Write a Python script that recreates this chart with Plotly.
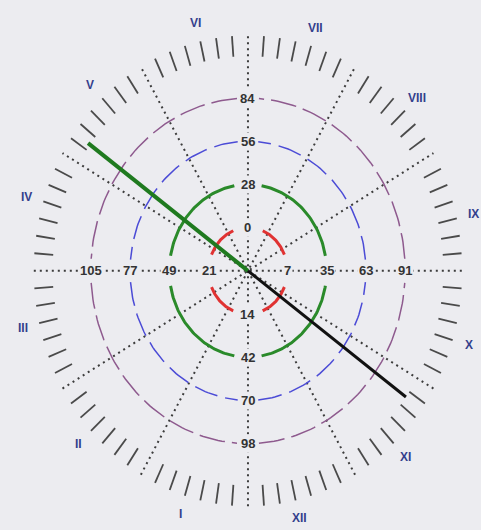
import numpy as np
import plotly.graph_objects as go

# ring labels (value sits on ring value//28 + 1, top/right/bottom/left by (value % 28) // 7)
ring_values = [0, 7, 14, 21, 28, 35, 42, 49, 56, 63, 70, 77, 84, 91, 98, 105]
# roman numerals round the dial, I..XII going clockwise from the bottom
numerals = ['I', 'II', 'III', 'IV', 'V', 'VI', 'VII', 'VIII', 'IX', 'X', 'XI', 'XII']
# the two hands (degrees counter-clockwise from east, length in ring units)
hand_angles = [144, -36]
hand_lengths = [5.03, 4.97]

BG = '#ececf0'


def pt(r, deg):
    a = np.radians(deg)
    return r * np.cos(a), r * np.sin(a)


fig = go.Figure()

# dotted radial lines every 30 degrees
for deg in range(0, 180, 30):
    x0, y0 = pt(5.45, deg)
    fig.add_trace(go.Scatter(x=[-x0, x0], y=[-y0, y0], mode='lines',
                             line=dict(color='#3c3c3c', width=2, dash='2px,4px'),
                             hoverinfo='skip'))

# minute ticks, 7 per 30 degrees, the ones on the dotted lines left out
tx, ty = [], []
for i in range(84):
    if i % 7 == 0:
        continue
    deg = i * 30 / 7
    x0, y0 = pt(4.97, deg)
    x1, y1 = pt(5.45, deg)
    tx += [x0, x1, None]
    ty += [y0, y1, None]
fig.add_trace(go.Scatter(x=tx, y=ty, mode='lines', line=dict(color='#4a4a4a', width=1.8),
                         hoverinfo='skip'))

# rings: colour, width, dash, half gap round each axis (degrees)
rings = [
    ('#e03232', 3, 'solid', 22),
    ('#2a8a2a', 3, 'solid', 10),
    ('#4b4bd6', 1.5, '24px,8px', 5),
    ('#8e5a8e', 1.5, '26px,7px', 4),
]
for k, (col, w, dash, gap) in enumerate(rings, start=1):
    for q in range(4):
        a = np.linspace(q * 90 + gap, q * 90 + 90 - gap, 60)
        x, y = pt(k, a)
        fig.add_trace(go.Scatter(x=x, y=y, mode='lines',
                                 line=dict(color=col, width=w, dash=dash),
                                 hoverinfo='skip'))

# hands
hand_colors = ['#1f7a1f', '#111111']
hand_widths = [4, 3]
for ang, ln, col, w in zip(hand_angles, hand_lengths, hand_colors, hand_widths):
    x1, y1 = pt(ln, ang)
    fig.add_trace(go.Scatter(x=[0, x1], y=[0, y1], mode='lines',
                             line=dict(color=col, width=w), hoverinfo='skip'))

annotations = []
for v in ring_values:
    r = v // 28 + 1
    d = (v % 28) // 7
    x, y = pt(r, 90 - 90 * d)
    annotations.append(dict(x=x, y=y, text='<b>' + str(v) + '</b>', showarrow=False,
                            bgcolor=BG, borderpad=1,
                            font=dict(family='Liberation Sans', size=13, color='#333333')))

for h, name in enumerate(numerals, start=1):
    x, y = pt(5.88, 283 - 30 * h)
    annotations.append(dict(x=x, y=y, text='<b>' + name + '</b>', showarrow=False,
                            font=dict(family='Liberation Sans', size=12, color='#34408c')))

fig.update_layout(
    width=481, height=530,
    margin=dict(l=0, r=0, t=0, b=0),
    paper_bgcolor=BG, plot_bgcolor=BG,
    showlegend=False,
    annotations=annotations,
    xaxis=dict(range=[-6.31, 5.93], visible=False, fixedrange=True),
    yaxis=dict(range=[-6.0, 6.27], visible=False, fixedrange=True),
)

fig.write_html('out.html', config={'displayModeBar': False},
               post_script="document.body.style.margin='0px';"
                           "document.body.style.overflow='hidden';")
